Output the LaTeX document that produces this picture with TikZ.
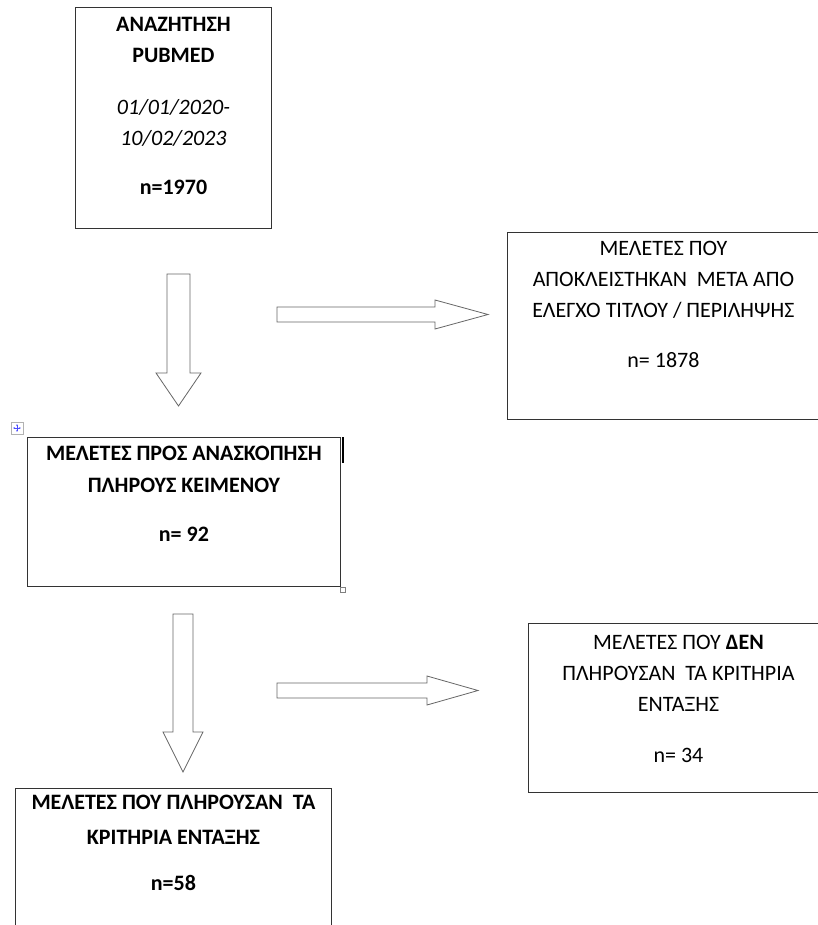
\documentclass[tikz,border=0pt]{standalone}
\usepackage{fontspec}
\setmainfont{Carlito}
\usetikzlibrary{positioning,arrows.meta}
\tikzset{
  box/.style={draw=black!80, line width=0.9pt, anchor=north west, inner sep=0pt},
  txt/.style={anchor=north, align=center, inner sep=0pt, font=\fontsize{22}{31}\selectfont},
  barrow/.style={draw=black!60, line width=0.8pt, fill=white, line join=miter},
  pics/dnarr/.style n args={4}{code={
    \draw[barrow] (-#2/2,0) -- (#2/2,0) -- (#2/2,#1-#4) -- (#3/2,#1-#4) -- (0,#1)
      -- (-#3/2,#1-#4) -- (-#2/2,#1-#4) -- cycle;}},
  pics/rtarr/.style n args={4}{code={
    \draw[barrow] (0,-#2/2) -- (#1-#4,-#2/2) -- (#1-#4,-#3/2) -- (#1,0)
      -- (#1-#4,#3/2) -- (#1-#4,#2/2) -- (0,#2/2) -- cycle;}},
}

\begin{document}
\begin{tikzpicture}[x=1pt, y=-1pt]
  \useasboundingbox (0,0) rectangle (817,925);
  % boxes
  \node[box, minimum width=196, minimum height=221] (search) at (75,7) {};
  \node[box, minimum width=312, minimum height=187] (excl1) at (507,232) {};
  \node[box, minimum width=313, minimum height=149] (full) at (27,437) {};
  \node[box, minimum width=300, minimum height=169] (excl2) at (528,623) {};
  \node[box, minimum width=316, minimum height=160] (incl) at (15,788) {};
  % texts
  \node[txt, below=10.5pt of search.north] (searchtxt)
    {\bfseries ΑΝΑΖΗΤΗΣΗ\\\bfseries PUBMED\\[20.5pt]\itshape 01/01/2020-\\\itshape 10/02/2023\\[18.5pt]\bfseries n=1970};
  \node[txt, below=9pt of excl1.north] (excl1txt)
    {ΜΕΛΕΤΕΣ ΠΟΥ\\ΑΠΟΚΛΕΙΣΤΗΚΑΝ \ ΜΕΤΑ ΑΠΟ\\ΕΛΕΓΧΟ ΤΙΤΛΟΥ / ΠΕΡΙΛΗΨΗΣ\\[19pt]n= 1878};
  \node[txt, below=9pt of full.north, font=\fontsize{22}{32}\selectfont\bfseries] (fulltxt)
    {ΜΕΛΕΤΕΣ ΠΡΟΣ ΑΝΑΣΚΟΠΗΣΗ\\ΠΛΗΡΟΥΣ ΚΕΙΜΕΝΟΥ\\[17pt]n= 92};
  \node[txt, below=12pt of excl2.north] (excl2txt)
    {ΜΕΛΕΤΕΣ ΠΟΥ \textbf{ΔΕΝ}\\ΠΛΗΡΟΥΣΑΝ \ ΤΑ ΚΡΙΤΗΡΙΑ\\ΕΝΤΑΞΗΣ\\[20pt]n= 34};
  \node[txt, below=7pt of incl.north, font=\fontsize{22}{35}\selectfont\bfseries] (incltxt)
    {ΜΕΛΕΤΕΣ ΠΟΥ ΠΛΗΡΟΥΣΑΝ \ ΤΑ\\ΚΡΙΤΗΡΙΑ ΕΝΤΑΞΗΣ\\[11pt]n=58};
  % block arrows
  \pic at (178.5,274) {dnarr={132}{23}{45}{33}};
  \pic at (277,314.5) {rtarr={211}{15}{29}{53}};
  \pic at (183,614) {dnarr={158}{20}{40}{40}};
  \pic at (277,690.5) {rtarr={201}{15}{29}{51}};
  % editing marks
  \draw[black!30, fill=white] (11,422) rectangle (23,434);
  \draw[blue!70, line width=0.5pt, {Stealth[length=2pt]}-{Stealth[length=2pt]}] (13,428) -- (21,428);
  \draw[blue!70, line width=0.5pt, {Stealth[length=2pt]}-{Stealth[length=2pt]}] (17,424) -- (17,432);
  \draw[line width=2pt] (343,437) -- (343,463);
  \draw[black!50, fill=white] (340,587) rectangle (345,592);
\end{tikzpicture}
\end{document}
